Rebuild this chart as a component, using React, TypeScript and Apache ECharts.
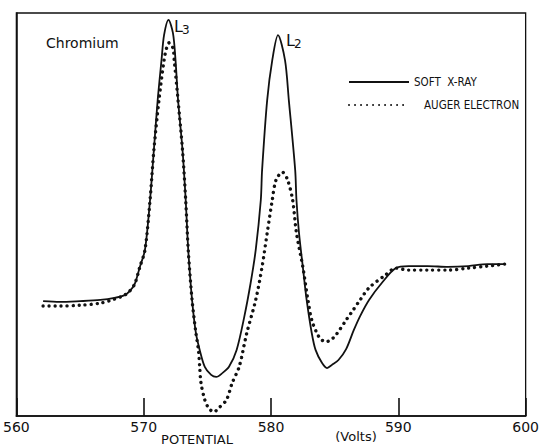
import React, { useEffect, useRef } from "react";
import * as echarts from "echarts";

// Potential (volts) and intensity (arbitrary units, 0-100)
const softXrayV = [562.1, 563.4, 565.0, 566.6, 567.7, 568.5, 568.9, 569.3, 569.7, 570.1, 570.5, 570.8, 571.1, 571.4, 571.6, 571.95, 572.3, 572.5, 572.7, 573.05, 573.3, 573.5, 573.8, 574.1, 574.4, 574.8, 575.3, 575.7, 576.2, 576.7, 577.3, 577.9, 578.4, 578.8, 579.2, 579.3, 579.7, 580.1, 580.55, 581.1, 581.4, 581.9, 582.0, 582.2, 582.5, 582.8, 583.2, 583.5, 584.0, 584.4, 584.8, 585.3, 585.9, 586.5, 587.0, 587.7, 588.7, 589.8, 590.8, 592.3, 593.9, 595.5, 597.0, 598.4];
const softXrayI = [28.5, 28.3, 28.5, 28.8, 29.3, 30.0, 31.0, 32.8, 37.0, 41.2, 53.6, 66.0, 78.4, 88.3, 94.5, 98.3, 95.0, 88.3, 78.4, 66.0, 53.6, 41.2, 28.8, 20.6, 16.4, 12.2, 10.2, 9.7, 10.7, 12.2, 16.4, 24.6, 33.0, 41.2, 53.6, 61.0, 78.4, 88.3, 94.5, 88.3, 78.4, 61.0, 53.6, 45.4, 37.0, 28.8, 20.6, 16.4, 13.2, 11.9, 12.7, 13.9, 16.6, 21.3, 24.8, 28.8, 33.0, 36.7, 37.2, 37.2, 37.0, 37.2, 37.7, 37.7];

const augerV = [562.1, 563.4, 565.0, 566.6, 567.7, 568.5, 568.9, 569.3, 569.7, 570.1, 570.5, 570.8, 571.2, 571.6, 571.8, 572.0, 572.3, 572.4, 572.7, 573.05, 573.3, 573.5, 573.8, 574.1, 574.3, 574.4, 574.5, 574.8, 575.1, 575.5, 575.9, 576.5, 576.95, 577.5, 578.1, 578.8, 579.3, 579.7, 580.1, 580.4, 580.9, 581.3, 581.7, 582.0, 582.5, 582.9, 583.2, 583.6, 583.9, 584.3, 584.7, 585.1, 585.9, 586.3, 587.0, 587.7, 589.0, 589.8, 590.8, 592.3, 593.9, 595.5, 597.0, 598.4];
const augerI = [27.3, 27.3, 27.5, 28.0, 29.0, 30.0, 31.0, 32.8, 37.0, 41.2, 53.6, 66.0, 78.4, 88.3, 91.3, 92.6, 91.3, 88.3, 78.4, 66.0, 53.6, 41.2, 28.8, 20.6, 16.4, 12.2, 8.2, 4.0, 2.0, 1.0, 2.0, 4.0, 8.2, 12.2, 20.6, 28.8, 37.0, 45.4, 53.6, 58.6, 60.5, 58.6, 53.6, 45.4, 37.0, 28.8, 23.8, 20.6, 19.1, 18.4, 18.9, 20.1, 23.8, 25.6, 28.8, 31.8, 35.0, 36.7, 36.2, 36.2, 36.2, 36.7, 37.2, 37.7];

const xTicks = [560, 570, 580, 590, 600];
const seriesNames = ["SOFT  X-RAY", "AUGER ELECTRON"];

const INK = "#111";
const FONT = "'DejaVu Sans', Verdana, sans-serif";
const COND = "'DejaVu Sans Condensed', 'DejaVu Sans', sans-serif";

export default function App() {
  const ref = useRef<HTMLDivElement>(null);
  useEffect(() => {
    if (!ref.current) return;
    const chart = echarts.init(ref.current, undefined, { renderer: "svg" });
    const solid = softXrayV.map((v, i) => [v, softXrayI[i]]);
    const dotted = augerV.map((v, i) => [v, augerI[i]]);
    chart.setOption({
      animation: false,
      backgroundColor: "#fff",
      grid: { left: 16, right: 14, top: 13, bottom: 30, show: true, borderColor: INK, borderWidth: 1.3 },
      xAxis: {
        type: "value",
        min: xTicks[0],
        max: xTicks[xTicks.length - 1],
        interval: 10,
        axisLine: { lineStyle: { color: INK, width: 1.6 } },
        axisTick: { inside: true, length: 18, lineStyle: { color: INK, width: 1.6 } },
        axisLabel: { color: INK, fontSize: 14, fontFamily: FONT, margin: 4 },
        splitLine: { show: false },
      },
      yAxis: {
        type: "value",
        min: 0,
        max: 100,
        axisLine: { show: true, lineStyle: { color: INK, width: 1.6 } },
        axisTick: { show: false },
        axisLabel: { show: false },
        splitLine: { show: false },
      },
      legend: {
        left: 343,
        top: 71,
        orient: "vertical",
        itemWidth: 60,
        itemHeight: 12,
        itemGap: 11,
        itemStyle: { color: "transparent", borderWidth: 0, opacity: 0 },
        textStyle: { color: INK, fontSize: 11.5, fontFamily: COND },
        data: [
          { name: seriesNames[0] },
          { name: seriesNames[1], textStyle: { padding: [0, 0, 0, 10] } },
        ],
      },
      series: [
        {
          name: seriesNames[0],
          type: "line",
          data: solid,
          smooth: 0.3,
          symbol: "none",
          color: INK,
          lineStyle: { color: INK, width: 1.8 },
        },
        {
          name: seriesNames[1],
          type: "line",
          data: dotted,
          smooth: 0.3,
          symbol: "none",
          color: INK,
          lineStyle: { color: INK, width: 3.4, type: [0.01, 6], cap: "round" },
        },
      ],
      graphic: [
        { type: "text", left: 46, top: 36, style: { text: "Chromium", fill: INK, font: `14px ${FONT}` } },
        { type: "text", x: 174, y: 26, style: { text: "L", fill: INK, font: `16px ${FONT}`, verticalAlign: "middle" } },
        { type: "text", x: 182, y: 30, style: { text: "3", fill: INK, font: `12px ${FONT}`, verticalAlign: "middle" } },
        { type: "text", x: 286, y: 40, style: { text: "L", fill: INK, font: `16px ${FONT}`, verticalAlign: "middle" } },
        { type: "text", x: 294, y: 44, style: { text: "2", fill: INK, font: `12px ${FONT}`, verticalAlign: "middle" } },
        { type: "text", x: 197, y: 439, style: { text: "POTENTIAL", fill: INK, font: `13px ${FONT}`, align: "center", verticalAlign: "middle" } },
        { type: "text", x: 356, y: 436, style: { text: "(Volts)", fill: INK, font: `13px ${FONT}`, align: "center", verticalAlign: "middle" } },
      ],
    });
    return () => chart.dispose();
  }, []);
  return (
    <div
      ref={ref}
      style={{ position: "fixed", left: 0, top: 0, width: 542, height: 446, background: "#fff" }}
    />
  );
}
